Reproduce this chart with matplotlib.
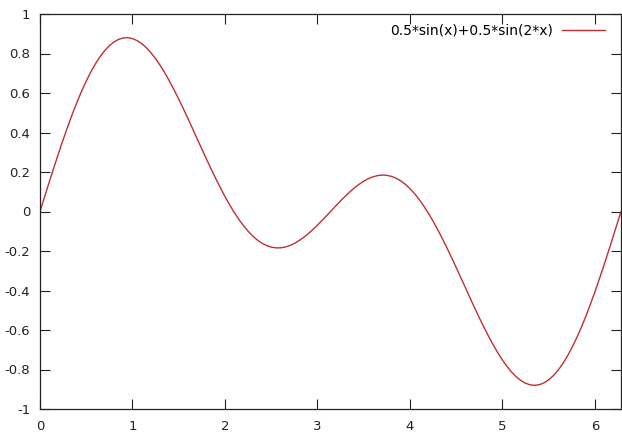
import matplotlib
matplotlib.use("Agg")
import matplotlib.pyplot as plt

# curve samples, x every 0.05 up to 2*pi
x = [0.0, 0.05, 0.1, 0.15, 0.2, 0.25, 0.3, 0.35, 0.4, 0.45,
     0.5, 0.55, 0.6, 0.65, 0.7, 0.75, 0.8, 0.85, 0.9, 0.95,
     1.0, 1.05, 1.1, 1.15, 1.2, 1.25, 1.3, 1.35, 1.4, 1.45,
     1.5, 1.55, 1.6, 1.65, 1.7, 1.75, 1.8, 1.85, 1.9, 1.95,
     2.0, 2.05, 2.1, 2.15, 2.2, 2.25, 2.3, 2.35, 2.4, 2.45,
     2.5, 2.55, 2.6, 2.65, 2.7, 2.75, 2.8, 2.85, 2.9, 2.95,
     3.0, 3.05, 3.1, 3.15, 3.2, 3.25, 3.3, 3.35, 3.4, 3.45,
     3.5, 3.55, 3.6, 3.65, 3.7, 3.75, 3.8, 3.85, 3.9, 3.95,
     4.0, 4.05, 4.1, 4.15, 4.2, 4.25, 4.3, 4.35, 4.4, 4.45,
     4.5, 4.55, 4.6, 4.65, 4.7, 4.75, 4.8, 4.85, 4.9, 4.95,
     5.0, 5.05, 5.1, 5.15, 5.2, 5.25, 5.3, 5.35, 5.4, 5.45,
     5.5, 5.55, 5.6, 5.65, 5.7, 5.75, 5.8, 5.85, 5.9, 5.95,
     6.0, 6.05, 6.1, 6.15, 6.2, 6.25, 6.2832]
y = [0.0, 0.0749, 0.1493, 0.2225, 0.2940, 0.3634, 0.4301, 0.4936, 0.5534, 0.6092,
     0.6604, 0.7070, 0.7483, 0.7844, 0.8148, 0.8396, 0.8585, 0.8715, 0.8786, 0.8799,
     0.8754, 0.8653, 0.8499, 0.8292, 0.8038, 0.7737, 0.7396, 0.7016, 0.6602, 0.6160,
     0.5693, 0.5207, 0.4706, 0.4196, 0.3681, 0.3166, 0.2657, 0.2157, 0.1672, 0.1206,
     0.0763, 0.0345, -0.0042, -0.0396, -0.0716, -0.0997, -0.1240, -0.1442, -0.1604, -0.1723,
     -0.1802, -0.1841, -0.1840, -0.1801, -0.1727, -0.1619, -0.1482, -0.1316, -0.1127, -0.0917,
     -0.0692, -0.0454, -0.0208, 0.0042, 0.0291, 0.0535, 0.0769, 0.0990, 0.1193, 0.1375,
     0.1531, 0.1659, 0.1756, 0.1818, 0.1845, 0.1832, 0.1780, 0.1688, 0.1554, 0.1379,
     0.1163, 0.0907, 0.0612, 0.0282, -0.0085, -0.0483, -0.0909, -0.1360, -0.1834, -0.2324,
     -0.2827, -0.3339, -0.3854, -0.4368, -0.4876, -0.5372, -0.5853, -0.6311, -0.6745, -0.7147,
     -0.7515, -0.7843, -0.8129, -0.8368, -0.8557, -0.8694, -0.8776, -0.8802, -0.8769, -0.8678,
     -0.8528, -0.8319, -0.8052, -0.7729, -0.7350, -0.6919, -0.6437, -0.5910, -0.5339, -0.4726,
     -0.4080, -0.3404, -0.2702, -0.1981, -0.1244, -0.0498, 0.0]
label = "0.5*sin(x)+0.5*sin(2*x)"
xticks = [0, 1, 2, 3, 4, 5, 6]
yticks = [-1, -0.8, -0.6, -0.4, -0.2, 0, 0.2, 0.4, 0.6, 0.8, 1]
ytick_labels = ["-1", "-0.8", "-0.6", "-0.4", "-0.2", "0", "0.2", "0.4", "0.6", "0.8", "1"]

fig = plt.figure(figsize=(6.22, 4.33), dpi=100)
ax = fig.add_axes([40 / 622, 24 / 433, 581 / 622, 395 / 433])

ax.plot(x, y, color="#c03030", linewidth=1.0, label=label)

ax.set_xlim(0, 6.2832)
ax.set_ylim(-1, 1)
ax.set_xticks(xticks)
ax.set_xticklabels([str(t) for t in xticks])
ax.set_yticks(yticks)
ax.set_yticklabels(ytick_labels)
ax.tick_params(direction="in", length=7, width=0.8, top=True, right=True,
               labelsize=9.5, colors="#222222")
ax.tick_params(axis="y", pad=7)
ax.tick_params(axis="x", pad=8)
for s in ax.spines.values():
    s.set_linewidth(0.9)
    s.set_color("#222222")

ax.legend(loc="upper right", frameon=False, markerfirst=False, fontsize=10,
          handlelength=3.1, handletextpad=0.7, borderaxespad=0.3,
          bbox_to_anchor=(0.99, 1.0))

fig.savefig("out.png", dpi=100)
